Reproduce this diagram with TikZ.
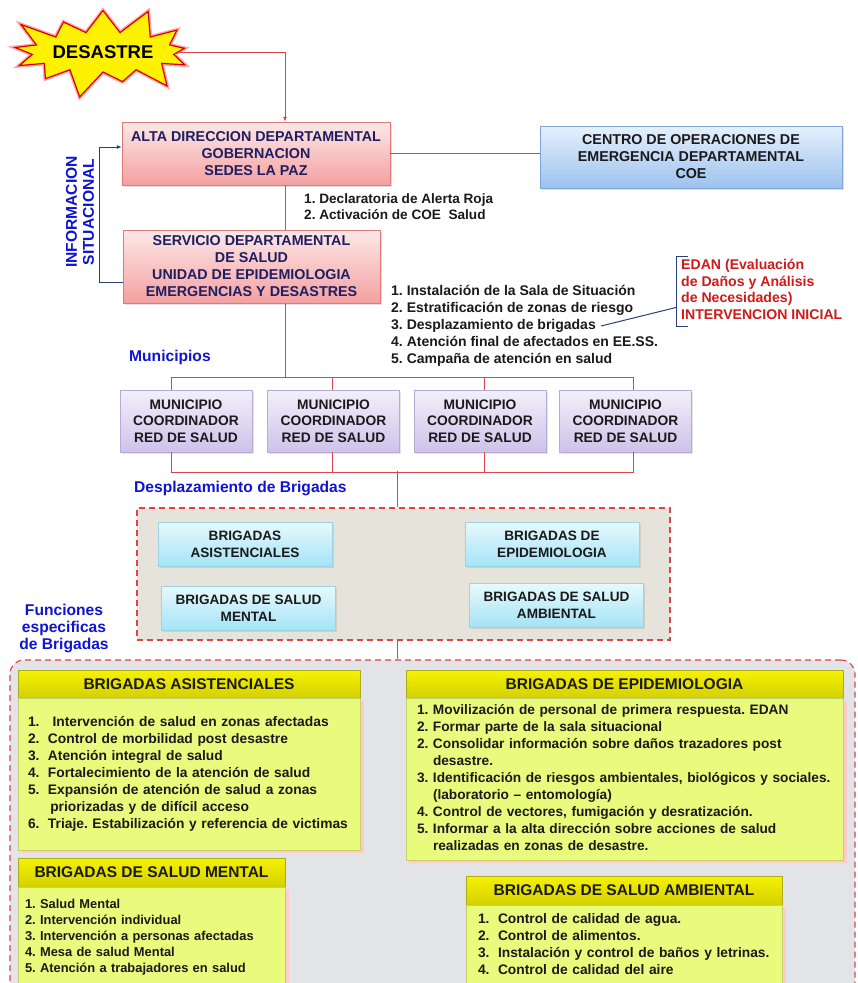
\documentclass[tikz,border=0pt]{standalone}
\usepackage{fontspec}
\setmainfont{Liberation Sans}
\usetikzlibrary{positioning}
\usetikzlibrary{calc}
\usetikzlibrary{arrows.meta}
\usetikzlibrary{shapes.symbols}
\usetikzlibrary{shadows}

\definecolor{linered}{HTML}{DC4448}
\definecolor{pinktop}{HTML}{FDE8E8}
\definecolor{pinkbot}{HTML}{F4A0A0}
\definecolor{pinkedge}{HTML}{E07A7A}
\definecolor{bluetop}{HTML}{E6F0FD}
\definecolor{bluebot}{HTML}{9DC2EE}
\definecolor{blueedge}{HTML}{7FA6D8}
\definecolor{lavtop}{HTML}{F3EFFA}
\definecolor{lavbot}{HTML}{CEC2EA}
\definecolor{lavedge}{HTML}{B8AAD8}
\definecolor{cyantop}{HTML}{E8F9FD}
\definecolor{cyanbot}{HTML}{A4E3F6}
\definecolor{cyanedge}{HTML}{9CD2E4}
\definecolor{yeltop}{HTML}{F6F200}
\definecolor{yelbot}{HTML}{D4D000}
\definecolor{yeledge}{HTML}{ADAB1E}
\definecolor{limefill}{HTML}{E9FB7C}
\definecolor{limeedge}{HTML}{C4CE6A}
\definecolor{graybg}{HTML}{E2E4E8}
\definecolor{beigebg}{HTML}{E6E4DA}
\definecolor{labelblue}{HTML}{0F14D2}
\definecolor{edanred}{HTML}{D01A1A}
\definecolor{navytxt}{HTML}{1E1E60}
\definecolor{navyline}{HTML}{2B3F7A}
\definecolor{txtblack}{HTML}{1A1A1A}

\newcommand{\listno}[1]{\makebox[20pt][l]{#1}}

\begin{document}
\frenchspacing
\begin{tikzpicture}[x=1pt,y=-1pt,
    redline/.style={draw=linered, line width=1pt},
    bluelink/.style={draw=navyline, line width=1pt},
    burst/.style={starburst, starburst points=13, starburst point height=30pt,
        minimum width=186pt, minimum height=100pt, inner sep=0pt,
        fill=yellow, draw=red!85!black, line width=1.2pt,
        preaction={draw=red!35, line width=4pt},
        font=\bfseries\fontsize{18.5}{20}\selectfont},
    redbox/.style={draw=pinkedge, top color=pinktop, bottom color=pinkbot,
        text=navytxt, align=center, inner sep=0pt,
        font=\bfseries\fontsize{14.3}{17}\selectfont,
        drop shadow={opacity=0.25, shadow xshift=1.5pt, shadow yshift=-1.5pt}},
    coebox/.style={draw=blueedge, top color=bluetop, bottom color=bluebot,
        text=txtblack, align=center, inner sep=0pt,
        font=\bfseries\fontsize{14.3}{17}\selectfont,
        drop shadow={opacity=0.25, shadow xshift=1.5pt, shadow yshift=-1.5pt}},
    munibox/.style={draw=lavedge, top color=lavtop, bottom color=lavbot,
        text=txtblack, align=center, inner sep=0pt,
        minimum width=132pt, minimum height=62pt,
        font=\bfseries\fontsize{13.8}{16.5}\selectfont,
        drop shadow={opacity=0.2, shadow xshift=1.5pt, shadow yshift=-1.5pt}},
    brigbox/.style={draw=cyanedge, top color=cyantop, bottom color=cyanbot,
        text=txtblack, align=center, inner sep=0pt,
        minimum width=174pt, minimum height=44pt,
        font=\bfseries\fontsize{13.6}{17}\selectfont,
        drop shadow={opacity=0.2, shadow xshift=1.5pt, shadow yshift=-1.5pt}},
    headbox/.style={draw=yeledge, top color=yeltop, bottom color=yelbot,
        text=txtblack, inner sep=0pt,
        font=\bfseries\fontsize{15.5}{17}\selectfont},
    listbody/.style={draw=limeedge, fill=limefill, text=txtblack,
        inner ysep=0pt,
        drop shadow={fill=pink!80, opacity=1, shadow xshift=4pt, shadow yshift=-3pt}},
    plainlist/.style={text=txtblack, align=left, inner sep=0pt,
        font=\bfseries\fontsize{14}{17}\selectfont},
    bluelabel/.style={text=labelblue, inner sep=0pt,
        font=\bfseries\fontsize{15.6}{17}\selectfont}]

\useasboundingbox (0,0) rectangle (858,983);
\fill[white] (0,0) rectangle (858,983);

% frames in the back
\node[draw=linered, dashed, dash pattern=on 6pt off 4pt, line width=1.1pt,
      fill=beigebg, minimum width=533pt, minimum height=132pt] (despFrame) at (403.5,574) {};
\node[draw=linered, dash pattern=on 6pt off 4pt, line width=1.1pt,
      fill=graybg, rounded corners=14pt,
      minimum width=845pt, minimum height=345pt] (funcFrame) at (432.5,832.5) {};

% top part
\node[burst] (desastre) at (103,52) {DESASTRE};
\node[redbox, minimum width=268pt, minimum height=63pt] (alta) at (256,153.5)
    {ALTA DIRECCION DEPARTAMENTAL\\GOBERNACION\\SEDES LA PAZ};
\node[coebox, minimum width=302pt, minimum height=62pt] (coe) at (691,157)
    {CENTRO DE OPERACIONES DE\\EMERGENCIA DEPARTAMENTAL\\COE};
\node[redbox, minimum width=257pt, minimum height=73pt] (sedes) at (251.5,266.5)
    {SERVICIO DEPARTAMENTAL\\DE SALUD\\UNIDAD DE EPIDEMIOLOGIA\\EMERGENCIAS Y DESASTRES};

\node[plainlist, anchor=north west, font=\bfseries\fontsize{13.6}{16.5}\selectfont] (alertList) at (304,193)
    {1. Declaratoria de Alerta Roja\\2. Activación de COE\ \ Salud};
\node[plainlist, anchor=north west] (salaList) at (391,285)
    {1. Instalación de la Sala de Situación\\
     2. Estratificación de zonas de riesgo\\
     3. Desplazamiento de brigadas\\
     4. Atención final de afectados en EE.SS.\\
     5. Campaña de atención en salud};
\coordinate (despEnd) at (601,326);

\node[text=edanred, align=left, anchor=north west, inner xsep=5pt, inner ysep=3pt,
      font=\bfseries\fontsize{14.1}{16.7}\selectfont] (edan) at (676,256)
    {EDAN (Evaluación\\de Daños y Análisis\\de Necesidades)\\INTERVENCION INICIAL};
\draw[bluelink] ([xshift=12pt]edan.north west) -- (edan.north west)
    -- ([yshift=-4pt]edan.south west) -- ([xshift=12pt,yshift=-4pt]edan.south west);
\draw[bluelink] (despEnd) -- ([yshift=-18pt]edan.west);

\node[bluelabel, rotate=90, align=center] (infoLbl) at (80,212)
    {INFORMACION\\SITUACIONAL};
\draw[bluelink, -{Latex[length=5pt,width=4pt]}] ([yshift=-15.5pt]sedes.west)
    -- ++(-23,0) |- ([yshift=6.5pt]alta.west);

\draw[redline, -{Latex[length=5pt,width=4pt]}] (desastre.east) -| ([xshift=29pt]alta.north);
\draw[redline] (alta.east) -- (alta.east -| coe.west);
\draw[redline] ([xshift=29pt]alta.south) -- ([xshift=33.5pt]sedes.north);

% municipios
\node[bluelabel, anchor=west] (muniLbl) at (129,357) {Municipios};
\node[munibox] (mun1) at (186,421) {MUNICIPIO\\COORDINADOR\\RED DE SALUD};
\node[munibox] (mun2) at (333.5,421) {MUNICIPIO\\COORDINADOR\\RED DE SALUD};
\node[munibox] (mun3) at (480,421) {MUNICIPIO\\COORDINADOR\\RED DE SALUD};
\node[munibox] (mun4) at (625.5,421) {MUNICIPIO\\COORDINADOR\\RED DE SALUD};

\draw[redline] ([xshift=33.5pt]sedes.south) -- ++(0,75);
\draw[redline] ([xshift=-15pt]mun1.north) -- ++(0,-12) -| ([xshift=7.5pt]mun4.north);
\draw[redline] ([xshift=-1.5pt]mun2.north) -- ++(0,-12);
\draw[redline] ([xshift=4pt]mun3.north) -- ++(0,-12);
\draw[redline] ([xshift=-15pt]mun1.south) -- ++(0,20) -| ([xshift=7.5pt]mun4.south);
\draw[redline] ([xshift=-1.5pt]mun2.south) -- ++(0,20);
\draw[redline] ([xshift=4pt]mun3.south) -- ++(0,20);
\draw[redline] ([xshift=-6.5pt]despFrame.north) -- ++(0,-36);

% brigadas
\node[bluelabel, anchor=west] (despLbl) at (134,488) {Desplazamiento de Brigadas};
\node[brigbox] (asisB) at (245,544) {BRIGADAS\\ASISTENCIALES};
\node[brigbox] (epiB) at (552,544) {BRIGADAS DE\\EPIDEMIOLOGIA};
\node[brigbox] (mentB) at (248.5,608) {BRIGADAS DE SALUD\\MENTAL};
\node[brigbox] (ambB) at (556.5,605) {BRIGADAS DE SALUD\\AMBIENTAL};
\draw[redline] ([xshift=-6.5pt]despFrame.south) -- ([xshift=-6.5pt]despFrame.south |- funcFrame.north);

% funciones
\node[bluelabel, align=center] (funcLbl) at (64,628) {Funciones\\especificas\\de Brigadas};

\node[headbox, minimum width=342pt, minimum height=28pt] (asisHead) at (189,684)
    {BRIGADAS ASISTENCIALES};
\node[listbody, below=0pt of asisHead, inner xsep=10pt, text width=322pt,
      minimum height=152pt, font=\bfseries\fontsize{13.8}{17}\selectfont] (asisBody)
    {\begin{tabular}{@{}l@{}}
     \listno{1.}\ Intervención de salud en zonas afectadas\\
     \listno{2.}Control de morbilidad post desastre\\
     \listno{3.}Atención integral de salud\\
     \listno{4.}Fortalecimiento de la atención de salud\\
     \listno{5.}Expansión de atención de salud a zonas\\
     \listno{}\,priorizadas y de difícil acceso\\
     \listno{6.}Triaje. Estabilización y referencia de victimas
     \end{tabular}};

\node[headbox, minimum width=437pt, minimum height=28pt] (epiHead) at (624.5,684)
    {BRIGADAS DE EPIDEMIOLOGIA};
\node[listbody, below=0pt of epiHead, inner xsep=11pt, text width=415pt,
      minimum height=162pt, font=\bfseries\fontsize{13.7}{17}\selectfont] (epiBody)
    {\begin{tabular}{@{}l@{}}
     1. Movilización de personal de primera respuesta. EDAN\\
     2. Formar parte de la sala situacional\\
     2. Consolidar información sobre daños trazadores post\\
     \hspace*{16pt}desastre.\\
     3. Identificación de riesgos ambientales, biológicos y sociales.\\
     \hspace*{16pt}(laboratorio – entomología)\\
     4. Control de vectores, fumigación y desratización.\\
     5. Informar a la alta dirección sobre acciones de salud\\
     \hspace*{16pt}realizadas en zonas de desastre.
     \end{tabular}};

\node[headbox, minimum width=267pt, minimum height=29pt] (mentHead) at (151.5,872.5)
    {BRIGADAS DE SALUD MENTAL};
\node[listbody, below=0pt of mentHead, inner xsep=7pt, text width=253pt,
      minimum height=100pt, font=\bfseries\fontsize{12.9}{16}\selectfont] (mentBody)
    {\begin{tabular}{@{}l@{}}
     1. Salud Mental\\
     2. Intervención individual\\
     3. Intervención a personas afectadas\\
     4. Mesa de salud Mental\\
     5. Atención a trabajadores en salud
     \end{tabular}};

\node[headbox, minimum width=316pt, minimum height=29pt] (ambHead) at (624,890.5)
    {BRIGADAS DE SALUD AMBIENTAL};
\node[listbody, below=0pt of ambHead, inner xsep=12pt, text width=292pt,
      minimum height=80pt, font=\bfseries\fontsize{13.8}{17}\selectfont] (ambBody)
    {\begin{tabular}{@{}l@{}}
     \listno{1.}Control de calidad de agua.\\
     \listno{2.}Control de alimentos.\\
     \listno{3.}Instalación y control de baños y letrinas.\\
     \listno{4.}Control de calidad del aire
     \end{tabular}};

\end{tikzpicture}
\end{document}
